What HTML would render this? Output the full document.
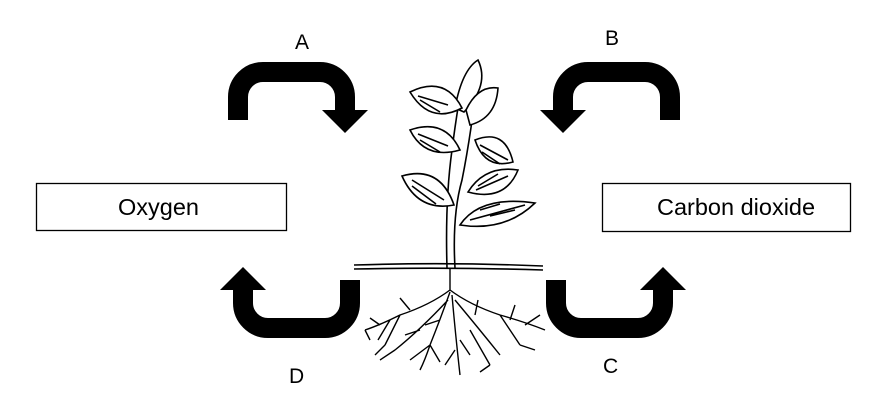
<!DOCTYPE html>
<html><head><meta charset="utf-8"><style>
html,body{margin:0;padding:0;background:#fff}
svg{display:block}
text{font-family:"Liberation Sans",Arial,sans-serif;font-size:21px;fill:#000}
.bx{font-size:23.5px}
</style></head><body>
<svg width="884" height="415" viewBox="0 0 884 415">
<defs>
<g id="arr">
<path d="M238,120 V97 A25,25 0 0 1 263,72 H320 A25,25 0 0 1 345,97 V112" fill="none" stroke="#000" stroke-width="20"/>
<polygon points="322,110 368,110 345,133" fill="#000"/>
</g>
</defs>
<use href="#arr"/>
<use href="#arr" transform="translate(908,0) scale(-1,1)"/>
<use href="#arr" transform="translate(318,400) scale(1,-1)"/>
<use href="#arr" transform="translate(588,400) scale(-1,-1)"/>
<text x="295" y="49">A</text>
<text x="605" y="45">B</text>
<text x="603" y="373">C</text>
<text x="289" y="383">D</text>
<rect x="36.5" y="183.5" width="250" height="47" fill="#fff" stroke="#000" stroke-width="1.3"/>
<text class="bx" x="118" y="215">Oxygen</text>
<rect x="602.5" y="183.5" width="248" height="48" fill="#fff" stroke="#000" stroke-width="1.3"/>
<text class="bx" x="657" y="215">Carbon dioxide</text>
<g fill="none" stroke="#000" stroke-width="1.6">
<path d="M354,265 Q450,262 543,266 M354,269 Q450,267 543,270"/>
<path d="M447,268 Q445,200 452,150 Q457,110 463,80 M455,268 Q452,215 462,180 Q470,140 476,90"/>
<g fill="#fff">
<path d="M455,108 Q462,70 478,60 Q490,85 464,112 Z"/>
<path d="M410,92 Q445,75 462,108 Q430,125 410,92 Z"/>
<path d="M466,110 Q478,85 498,88 Q496,118 470,125 Z"/>
<path d="M410,130 Q445,118 460,150 Q425,160 410,130 Z"/>
<path d="M475,140 Q505,128 513,162 Q485,170 475,140 Z"/>
<path d="M402,176 Q440,165 454,205 Q418,212 402,176 Z"/>
<path d="M468,192 Q485,165 518,170 Q505,202 468,192 Z"/>
<path d="M460,225 Q480,195 535,203 Q505,232 460,225 Z"/>
</g>
<path d="M418,96 L448,105 M420,100 L440,112 M418,134 L448,146 M420,140 L440,152 M412,180 L444,200 M412,186 L436,204 M480,145 L508,160 M482,152 L500,164 M476,190 L508,176 M478,186 L498,174 M470,220 L525,205 M480,210 L500,204 M490,216 L515,210"/>
<path stroke-width="1.4" d="M450,268 V290 Q430,305 400,315 Q380,325 365,330 M450,290 Q470,305 500,315 Q525,322 545,330 M450,292 Q440,320 430,345 Q425,360 420,370 M452,295 Q455,330 460,375 M448,300 Q420,330 395,350 M455,300 Q480,330 500,355 M400,315 L385,345 M500,315 L520,345 M430,345 L410,360 M470,330 L490,365 M380,325 L370,318 M390,320 L378,340 M395,350 L380,360 M410,310 L400,298 M420,330 L405,335 M440,320 L425,325 M460,340 L470,355 M475,315 L478,300 M510,320 L515,305 M525,325 L540,315 M520,345 L535,350 M430,345 L440,362 M455,350 L445,365 M490,365 L480,372 M385,345 L375,355 M365,330 L370,340"/>
</g>
</svg>
</body></html>
